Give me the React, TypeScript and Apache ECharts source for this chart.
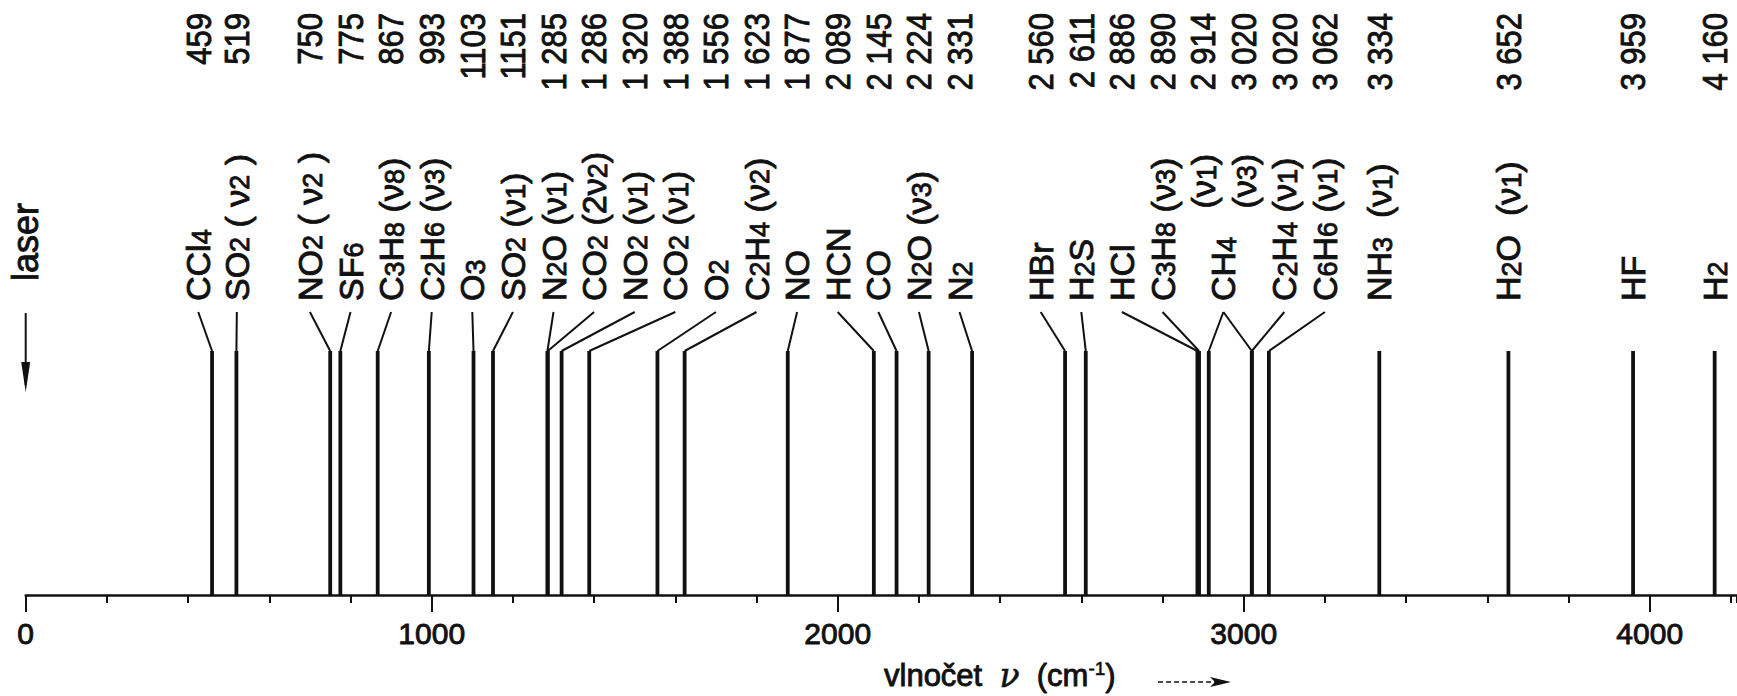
import React, { useEffect, useRef } from "react";
import * as echarts from "echarts";

// ---- data (Raman shifts of gases) ----
const WAVENUMBERS = [459, 519, 750, 775, 867, 993, 1103, 1151, 1285, 1286, 1320, 1388, 1556, 1623, 1877, 2089, 2145, 2224, 2331, 2560, 2611, 2886, 2890, 2914, 3020, 3020, 3062, 3334, 3652, 3959, 4160];
const SHIFT_TEXT = ["459", "519", "750", "775", "867", "993", "1103", "1151", "1 285", "1 286", "1 320", "1 388", "1 556", "1 623", "1 877", "2 089", "2 145", "2 224", "2 331", "2 560", "2 611", "2 886", "2 890", "2 914", "3 020", "3 020", "3 062", "3 334", "3 652", "3 959", "4 160"];
const MOLECULES = ["CCl4", "SO2", "NO2", "SF6", "C3H8", "C2H6", "O3", "SO2", "N2O", "CO2", "NO2", "CO2", "O2", "C2H4", "NO", "HCN", "CO", "N2O", "N2", "HBr", "H2S", "HCl", "C3H8", "CH4", "CH4", "C2H4", "C6H6", "NH3", "H2O", "HF", "H2"];
const MODES = ["", "( ν2 )", "( ν2 )", "", "(ν8)", "(ν3)", "", "(ν1)", "(ν1)", "(2ν2)", "(ν1)", "(ν1)", "", "(ν2)", "", "", "", "(ν3)", "", "", "", "", "(ν3)", "(ν1)", "(ν3)", "(ν1)", "(ν1)", " (ν1)", " (ν1)", "", ""];
const RELATIVE_HEIGHT = [1, 1, 1, 1, 1, 1, 1, 1, 1, 1, 1, 1, 1, 1, 1, 1, 1, 1, 1, 1, 1, 1, 1, 1, 1, 1, 1, 1, 1, 1, 1];
const AXIS_LABELS = [0, 1000, 2000, 3000, 4000];
const X_MAX = 4215;

// ---- layout: where each label column sits along the axis (cm-1); null = directly above its line
const LABEL_AT: (number | null)[] = [425, 520, 700, 800, 900, 1000, 1100, 1200, 1300, 1400, 1500, 1600, 1700, 1800, 1900, 2000, 2100, 2200, 2300, 2500, 2600, 2700, 2800, 2900, 3000, 3100, 3200, null, null, null, null];

const FONT = '"Liberation Sans", Arial, sans-serif';
const INK = "#111";
const LABEL_SIZE = 34;
const SUB_SIZE = 27;
const NUM_SIZE = 36;
const THICKEN = 0.9;

function isLetter(ch: string) {
  return /[A-Za-zν]/.test(ch);
}

function tokens(str: string): { t: string; sub: boolean }[] {
  const out: { t: string; sub: boolean }[] = [];
  for (let k = 0; k < str.length; k++) {
    const ch = str[k];
    const sub = /[0-9]/.test(ch) && k > 0 && isLetter(str[k - 1]);
    const last = out[out.length - 1];
    if (last && last.sub === sub) last.t += ch;
    else out.push({ t: ch, sub });
  }
  return out;
}

function toRich(str: string) {
  return tokens(str)
    .map((tk) => `{${tk.sub ? "s" : "n"}|${tk.t}}`)
    .join("");
}

let measureCtx: CanvasRenderingContext2D | null = null;
function measure(str: string) {
  if (!measureCtx) measureCtx = document.createElement("canvas").getContext("2d");
  let w = 0;
  for (const tk of tokens(str)) {
    measureCtx!.font = `${tk.sub ? SUB_SIZE : LABEL_SIZE}px ${FONT}`;
    w += measureCtx!.measureText(tk.t).width;
  }
  return w;
}

const RICH = {
  n: { fontSize: LABEL_SIZE, lineHeight: LABEL_SIZE, fontFamily: FONT, fill: INK, stroke: INK, lineWidth: THICKEN },
  s: { fontSize: SUB_SIZE, lineHeight: 16, verticalAlign: "bottom", fontFamily: FONT, fill: INK, stroke: INK, lineWidth: THICKEN },
};

export default function App() {
  const ref = useRef<HTMLDivElement>(null);

  useEffect(() => {
    if (!ref.current) return;
    const chart = echarts.init(ref.current, undefined, { renderer: "svg" });
    const n = WAVENUMBERS.length;

    const renderItem = (params: any, api: any) => {
      const i = params.dataIndex;
      const base = api.coord([api.value(0), 0]);
      const top = api.coord([api.value(0), api.value(1)]);
      const x = base[0];
      const colOf = (j: number) => {
        const at = LABEL_AT[j];
        return at == null ? api.coord([WAVENUMBERS[j], 0])[0] : api.coord([at, 0])[0];
      };
      const col = colOf(i);
      // group of consecutive entries sharing one molecule name
      let g0 = i;
      let g1 = i;
      while (g0 > 0 && MOLECULES[g0 - 1] === MOLECULES[i]) g0--;
      while (g1 < n - 1 && MOLECULES[g1 + 1] === MOLECULES[i]) g1++;
      const shared = g1 > g0;
      const nameX = shared ? (colOf(g0) + colOf(g1)) / 2 : col;

      const labelY = top[1] - 50;
      const leaderTop = top[1] - 39;
      const children: any[] = [
        {
          type: "line",
          shape: { x1: x, y1: base[1], x2: x, y2: top[1] },
          style: { stroke: INK, lineWidth: 3.8 },
        },
        {
          type: "text",
          x: col,
          y: 13,
          rotation: Math.PI / 2,
          scaleX: 0.86,
          style: {
            text: SHIFT_TEXT[i],
            fontSize: NUM_SIZE,
            fontFamily: FONT,
            fill: INK,
            stroke: INK,
            lineWidth: THICKEN,
            align: "right",
            verticalAlign: "middle",
          },
        },
      ];
      if (LABEL_AT[i] != null) {
        children.push({
          type: "line",
          shape: { x1: x, y1: top[1], x2: nameX, y2: leaderTop },
          style: { stroke: INK, lineWidth: 2 },
        });
      }
      const textStyle = (t: string) => ({
        text: toRich(t),
        rich: RICH,
        fontSize: LABEL_SIZE,
        fontFamily: FONT,
        fill: INK,
        align: "left",
        verticalAlign: "middle",
      });
      if (!shared) {
        const txt = MODES[i] ? `${MOLECULES[i]} ${MODES[i]}` : MOLECULES[i];
        children.push({ type: "text", x: col, y: labelY, rotation: Math.PI / 2, style: textStyle(txt) });
      } else {
        if (i === g0) {
          children.push({ type: "text", x: nameX, y: labelY, rotation: Math.PI / 2, style: textStyle(MOLECULES[i]) });
        }
        const offset = measure(MOLECULES[i] + "   ");
        children.push({ type: "text", x: col, y: labelY - offset, rotation: Math.PI / 2, style: textStyle(MODES[i]) });
      }
      return { type: "group", children };
    };

    chart.setOption({
      animation: false,
      backgroundColor: "#fff",
      grid: { left: 25.7, right: 0, top: 351, bottom: 101 },
      xAxis: [
        {
          type: "value",
          min: 0,
          max: X_MAX,
          interval: 200,
          axisLine: { show: true, onZero: false, lineStyle: { color: INK, width: 2.5 } },
          axisTick: { show: true, length: 8, lineStyle: { color: INK, width: 2 } },
          splitLine: { show: false },
          axisLabel: {
            show: true,
            customValues: AXIS_LABELS,
            formatter: (v: number) => String(v),
            color: INK,
            fontSize: 30,
            fontFamily: FONT,
            textBorderColor: INK,
            textBorderWidth: THICKEN,
            margin: 23,
          },
        },
        {
          type: "value",
          min: 0,
          max: X_MAX,
          interval: 1000,
          position: "bottom",
          axisLine: { show: false },
          axisTick: { show: true, customValues: AXIS_LABELS, length: 17, lineStyle: { color: INK, width: 2 } },
          splitLine: { show: false },
          axisLabel: { show: false },
        },
      ],
      yAxis: { type: "value", min: 0, max: 1, show: false },
      series: [
        {
          type: "custom",
          renderItem,
          clip: false,
          encode: { x: 0, y: 1 },
          data: WAVENUMBERS.map((w, i) => [w, RELATIVE_HEIGHT[i]]),
        },
      ],
    });

    const x0 = chart.convertToPixel({ xAxisIndex: 0 }, 0) as number;
    chart.setOption({
      graphic: [
        {
          type: "text",
          x: x0,
          y: 281,
          rotation: Math.PI / 2,
          style: { text: "laser", fontSize: 36, fontFamily: FONT, fill: INK, stroke: INK, lineWidth: THICKEN, align: "left", verticalAlign: "middle" },
        },
        {
          type: "line",
          shape: { x1: x0, y1: 313, x2: x0, y2: 385 },
          style: { stroke: INK, lineWidth: 2 },
        },
        {
          type: "polygon",
          shape: { points: [[x0 - 4.5, 362], [x0 + 4.5, 362], [x0, 392]] },
          style: { fill: INK },
        },
        {
          type: "text",
          x: 884,
          y: 675,
          style: {
            text: "{n|vlnočet  }{i|ν}{n|  (cm}{sup|-1}{n|)}",
            rich: {
              n: { fontSize: 31, fontFamily: FONT, fill: INK, stroke: INK, lineWidth: THICKEN, lineHeight: 32 },
              i: { fontSize: 33, fontFamily: '"DejaVu Serif", serif', fontStyle: "italic", fill: INK, stroke: INK, lineWidth: 0.6, lineHeight: 32 },
              sup: { fontSize: 19, fontFamily: FONT, fill: INK, stroke: INK, lineWidth: 0.6, lineHeight: 14, verticalAlign: "top" },
            },
            align: "left",
            verticalAlign: "middle",
          },
        },
        {
          type: "line",
          shape: { x1: 1158, y1: 682, x2: 1216, y2: 682 },
          style: { stroke: INK, lineWidth: 1.5, lineDash: [5, 3] },
        },
        {
          type: "polygon",
          shape: { points: [[1210, 677], [1231, 682], [1210, 687], [1215, 682]] },
          style: { fill: INK },
        },
      ],
    });

    return () => chart.dispose();
  }, []);

  return (
    <div
      ref={ref}
      style={{ position: "fixed", left: 0, top: 0, width: 1737, height: 696, background: "#fff" }}
    />
  );
}
